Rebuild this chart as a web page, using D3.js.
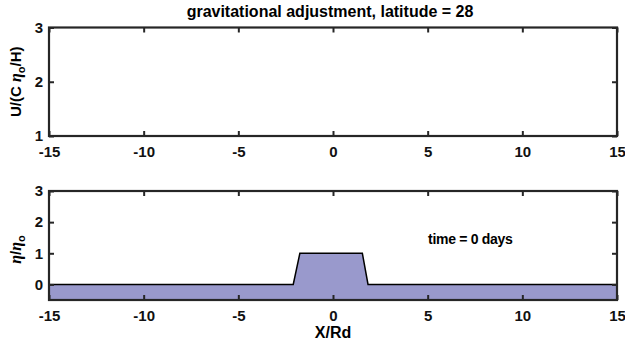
<!DOCTYPE html>
<html>
<head>
<meta charset="utf-8">
<script src="https://cdn.jsdelivr.net/npm/d3@7"></script>
<style>
  html, body { margin: 0; padding: 0; background: #fff; }
  svg { display: block; font-family: "Liberation Sans", Arial, Helvetica, sans-serif; }
</style>
</head>
<body>
<svg id="fig" width="625" height="345"></svg>
<script>
// Shared x axis (distance in deformation radii)
const xDomain = [-15, 15];
const xTicks = [-15, -10, -5, 0, 5, 10, 15];

// Upper panel: velocity (empty at t = 0)
const uDomain = [1, 3];
const uTicks = [1, 2, 3];

// Lower panel: surface elevation profile
const etaDomain = [-0.5, 3];
const etaTicks = [0, 1, 2, 3];
const xPos = [-15, -2.1, -1.75, 1.55, 1.85, 15];
const etaVals = [0, 0, 1, 1, 0, 0];

const titleText = "gravitational adjustment, latitude = 28";
const timeLabel = "time = 0 days";
const timeX = 7.25, timeY = 1.42;

const svg = d3.select("#fig");
const left = 49, right = 617;
const axisColor = "#262626";
const tickFont = 15, labelFont = 16;
const greekFont = "'Liberation Serif', 'DejaVu Serif', serif";
const plainNum = d => String(d);   // hyphen-minus, like the original tick labels

const x = d3.scaleLinear().domain(xDomain).range([left, right]);

function panel(top, bottom, yDomain) {
  const y = d3.scaleLinear().domain(yDomain).range([bottom, top]);
  const g = svg.append("g");
  return { y, g, top, bottom };
}

function drawFrame(p, yTicks) {
  const { y, g, top, bottom } = p;
  const tickLen = 5;
  const axB = g.append("g").attr("transform", `translate(0,${bottom})`)
    .call(d3.axisBottom(x).tickValues(xTicks).tickSize(-tickLen).tickPadding(10).tickFormat(plainNum));
  const axT = g.append("g").attr("transform", `translate(0,${top})`)
    .call(d3.axisTop(x).tickValues(xTicks).tickSize(-tickLen).tickFormat(""));
  const axL = g.append("g").attr("transform", `translate(${left},0)`)
    .call(d3.axisLeft(y).tickValues(yTicks).tickSize(-tickLen).tickPadding(6).tickFormat(plainNum));
  const axR = g.append("g").attr("transform", `translate(${right},0)`)
    .call(d3.axisRight(y).tickValues(yTicks).tickSize(-tickLen).tickFormat(""));
  [axB, axT, axL, axR].forEach(a => {
    a.select(".domain").remove();
    a.selectAll(".tick line").attr("stroke", axisColor).attr("stroke-width", 2);
    a.selectAll("text").attr("fill", "#111").attr("font-size", tickFont).attr("font-weight", "bold")
      .attr("font-family", "'Liberation Sans', Arial, sans-serif");
  });
  g.append("rect").attr("x", left).attr("y", top)
    .attr("width", right - left).attr("height", bottom - top)
    .attr("fill", "none").attr("stroke", axisColor).attr("stroke-width", 2.2);
}

// Upper panel
const pU = panel(27.5, 136, uDomain);
drawFrame(pU, uTicks);

// Lower panel
const pE = panel(191, 300, etaDomain);
const profile = xPos.map((d, i) => [d, etaVals[i]]);
pE.g.append("path")
  .datum(profile)
  .attr("fill", "#9999cc")
  .attr("d", d3.area().x(d => x(d[0])).y0(pE.y(etaDomain[0])).y1(d => pE.y(d[1])));
pE.g.append("path")
  .datum(profile)
  .attr("fill", "none").attr("stroke", "#000").attr("stroke-width", 1.5)
  .attr("d", d3.line().x(d => x(d[0])).y(d => pE.y(d[1])));
drawFrame(pE, etaTicks);

pE.g.append("text")
  .attr("x", x(timeX)).attr("y", pE.y(timeY))
  .attr("text-anchor", "middle").attr("dominant-baseline", "middle")
  .attr("font-size", 14).attr("fill", "#000").attr("font-weight", "bold")
  .attr("letter-spacing", "-0.3")
  .text(timeLabel);

// Title
svg.append("text")
  .attr("x", (left + right) / 2 - 3).attr("y", 17)
  .attr("text-anchor", "middle").attr("font-size", labelFont).attr("font-weight", "bold")
  .attr("fill", "#000")
  .text(titleText);

// Axis labels
svg.append("text")
  .attr("x", (left + right) / 2).attr("y", 338)
  .attr("text-anchor", "middle").attr("font-size", labelFont).attr("font-weight", "bold")
  .text("X/Rd");

const yl1 = svg.append("text")
  .attr("transform", `translate(21,${(pU.top + pU.bottom) / 2}) rotate(-90)`)
  .attr("text-anchor", "middle").attr("font-size", 15).attr("font-weight", "bold");
yl1.append("tspan").text("U/(C ");
yl1.append("tspan").attr("font-family", greekFont).attr("font-style", "italic").attr("font-size", 16).text("\u03B7");
yl1.append("tspan").attr("dy", 4).attr("font-size", 11).text("o");
yl1.append("tspan").attr("dy", -4).text("/H)");

const yl2 = svg.append("text")
  .attr("transform", `translate(21,${(pE.top + pE.bottom) / 2 + 4}) rotate(-90)`)
  .attr("text-anchor", "middle").attr("font-size", 15).attr("font-weight", "bold");
yl2.append("tspan").attr("font-family", greekFont).attr("font-style", "italic").attr("font-size", 16).text("\u03B7");
yl2.append("tspan").text("/");
yl2.append("tspan").attr("font-family", greekFont).attr("font-style", "italic").attr("font-size", 16).text("\u03B7");
yl2.append("tspan").attr("dy", 4).attr("font-size", 11).text("o");
</script>
</body>
</html>
